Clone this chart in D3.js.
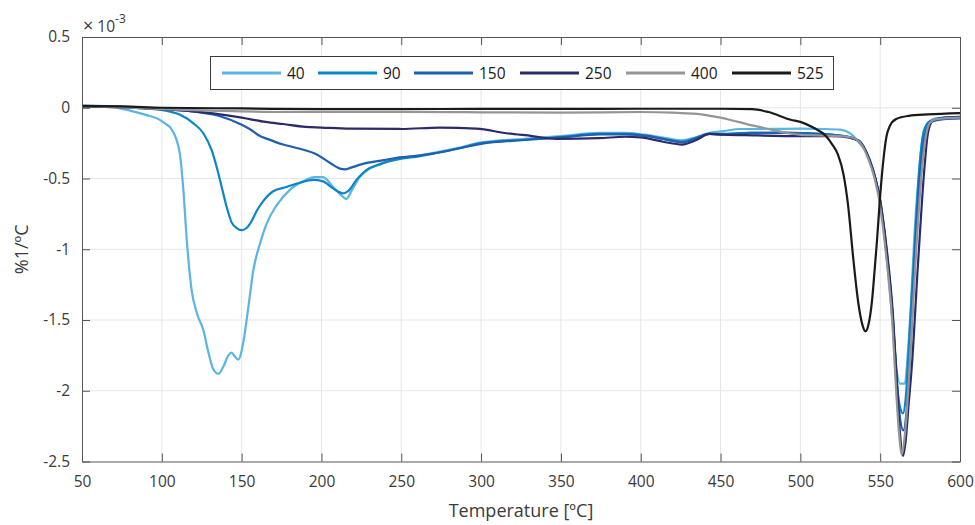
<!DOCTYPE html>
<html>
<head>
<meta charset="utf-8">
<script src="https://cdn.jsdelivr.net/npm/d3@7"></script>
<style>
  html, body { margin: 0; padding: 0; background: #fff; }
  svg { display: block; font-family: "Open Sans", "Noto Sans", sans-serif; }
</style>
</head>
<body>
<svg id="chart" width="975" height="525"></svg>
<script>
// DTG curves (derivative of mass loss, ×10^-3 %1/ºC) versus temperature [ºC]
const seriesNames = ["40", "90", "150", "250", "400", "525"];
const seriesColors = ["#5ab4e6", "#0a86c8", "#1f5fae", "#2b2b6c", "#949598", "#1a1a1a"];

const s40 = [[50,0.015],[60,0.012],[70,0.005],[80,-0.02],[90,-0.05],[97,-0.075],[102,-0.11],[106,-0.15],[109,-0.22],[111.5,-0.34],[113.5,-0.58],[115.6,-0.93],[118.7,-1.29],[121.9,-1.45],[126,-1.57],[129.2,-1.73],[132.3,-1.85],[135.4,-1.88],[138.5,-1.83],[141.7,-1.75],[143.7,-1.73],[145.8,-1.76],[147.9,-1.78],[151,-1.66],[154.2,-1.41],[157.3,-1.15],[161.5,-0.96],[165.6,-0.82],[171.9,-0.69],[180.2,-0.58],[188.5,-0.52],[195.8,-0.49],[201,-0.49],[207.3,-0.56],[213.5,-0.63],[215.6,-0.645],[218.7,-0.59],[223.9,-0.49],[230.2,-0.43],[236.4,-0.40],[250,-0.355],[260,-0.34],[272,-0.315],[285,-0.285],[300,-0.245],[327,-0.22],[350,-0.2],[374,-0.178],[390,-0.178],[402,-0.19],[414,-0.21],[425,-0.23],[434,-0.21],[442,-0.18],[452,-0.165],[462,-0.15],[480,-0.15],[500,-0.148],[515,-0.15],[525,-0.155],[531,-0.18],[537,-0.25],[543.7,-0.37],[548,-0.55],[551,-0.75],[553.6,-1.0],[556,-1.3],[558,-1.55],[560,-1.82],[562.5,-1.95],[565.5,-1.95],[567,-1.78],[568.8,-1.48],[571.5,-0.89],[574.6,-0.42],[576.7,-0.2],[579.9,-0.11],[585,-0.075],[600,-0.065]];

const s90 = [[50,0.015],[70,0.01],[90,-0.005],[100,-0.015],[111.5,-0.05],[119.8,-0.11],[126,-0.18],[131.2,-0.30],[134.4,-0.42],[137.5,-0.56],[140.6,-0.70],[143.7,-0.81],[146.9,-0.85],[150,-0.865],[153.1,-0.85],[156.3,-0.80],[159.4,-0.73],[163.5,-0.66],[169.8,-0.59],[178.1,-0.56],[186.5,-0.53],[194.8,-0.51],[201,-0.52],[207.3,-0.57],[213.5,-0.605],[216.7,-0.59],[221.9,-0.51],[228.1,-0.44],[236.4,-0.40],[250,-0.36],[260,-0.345],[272,-0.32],[285,-0.29],[300,-0.25],[327,-0.226],[350,-0.207],[374,-0.185],[390,-0.185],[402,-0.195],[414,-0.22],[426,-0.24],[435,-0.21],[443,-0.185],[452,-0.185],[470,-0.175],[490,-0.175],[505,-0.18],[520,-0.19],[530,-0.205],[537,-0.24],[543.3,-0.37],[547,-0.5],[550,-0.66],[553.6,-0.98],[558,-1.5],[560.5,-1.95],[562.5,-2.12],[564.3,-2.16],[566,-2.05],[568.4,-1.6],[571.5,-1.0],[574.6,-0.42],[577.5,-0.16],[581,-0.095],[590,-0.075],[600,-0.07]];

const s150 = [[50,0.01],[75,0.005],[100,-0.01],[121.9,-0.03],[136.5,-0.06],[150,-0.12],[155,-0.15],[161.5,-0.20],[166,-0.22],[176,-0.26],[186.6,-0.29],[197,-0.33],[205.4,-0.39],[211.6,-0.43],[215,-0.435],[218,-0.425],[228.4,-0.39],[239,-0.37],[249,-0.35],[259.6,-0.34],[272,-0.32],[285,-0.29],[300,-0.255],[327,-0.228],[350,-0.21],[374,-0.188],[390,-0.188],[405,-0.2],[416,-0.225],[426,-0.245],[435,-0.215],[443,-0.185],[452,-0.19],[470,-0.18],[490,-0.178],[505,-0.183],[520,-0.192],[530,-0.205],[537,-0.24],[543.3,-0.37],[547,-0.5],[550,-0.65],[553.6,-0.97],[558,-1.5],[560.5,-1.95],[562.5,-2.2],[564.5,-2.28],[566.5,-2.15],[569,-1.7],[572,-1.0],[575.3,-0.42],[578.5,-0.17],[582,-0.1],[590,-0.08],[600,-0.075]];

const s250 = [[50,0.01],[80,0.0],[100,-0.01],[115,-0.02],[132,-0.04],[150,-0.07],[155,-0.08],[165,-0.10],[176,-0.115],[190,-0.135],[200,-0.14],[218,-0.148],[250,-0.15],[274,-0.14],[297,-0.148],[316,-0.18],[332,-0.20],[347,-0.22],[374,-0.215],[390,-0.205],[400,-0.21],[414,-0.24],[426,-0.26],[434.5,-0.23],[443,-0.185],[452,-0.19],[470,-0.195],[500,-0.20],[520,-0.20],[530,-0.21],[537,-0.235],[543,-0.36],[547,-0.5],[550,-0.66],[553.8,-0.97],[557.9,-1.45],[560.5,-1.95],[562.4,-2.3],[564.3,-2.46],[566,-2.35],[567.8,-2.1],[569.8,-1.83],[573.6,-1.12],[577.8,-0.415],[579.9,-0.18],[583,-0.09],[590,-0.07],[600,-0.065]];

const s400 = [[50,0.01],[80,0.0],[100,-0.01],[130,-0.02],[175,-0.03],[250,-0.03],[300,-0.032],[350,-0.035],[400,-0.03],[420,-0.035],[440,-0.05],[450,-0.07],[461,-0.10],[472,-0.13],[482,-0.155],[490,-0.175],[499,-0.19],[510,-0.195],[524,-0.20],[532,-0.21],[537,-0.24],[542.5,-0.36],[546.5,-0.5],[549.5,-0.66],[553.3,-1.0],[557.5,-1.5],[560,-2.0],[561.8,-2.3],[563.6,-2.45],[565.3,-2.33],[567,-2.1],[568.4,-1.83],[572.6,-1.0],[576.7,-0.37],[579,-0.18],[580.9,-0.11],[585,-0.08],[600,-0.07]];

const s525 = [[50,0.012],[75,0.01],[100,0.0],[150,-0.005],[200,-0.01],[250,-0.01],[300,-0.008],[350,-0.008],[400,-0.007],[450,-0.007],[470,-0.01],[480,-0.03],[494,-0.085],[500,-0.10],[508,-0.14],[516,-0.2],[520,-0.26],[523.5,-0.33],[527,-0.47],[530,-0.70],[533,-1.05],[536.3,-1.38],[539,-1.54],[540.8,-1.58],[542.5,-1.54],[545,-1.35],[546.5,-1.15],[548,-0.94],[550,-0.62],[552,-0.37],[554,-0.2],[556,-0.13],[560,-0.08],[568,-0.057],[580,-0.047],[600,-0.038]];

const seriesValues = [s40, s90, s150, s250, s400, s525];

const xTicks = [50, 100, 150, 200, 250, 300, 350, 400, 450, 500, 550, 600];
const yTicks = [0.5, 0, -0.5, -1, -1.5, -2, -2.5];
const xTitle = "Temperature [ºC]";
const yTitle = "%1/ºC";

const svg = d3.select("#chart");
const L = 82, R = 960, T = 37, B = 461.5;
const axisColor = "#555555";
const textColor = "#3a3a3a";
const tickLen = 8;

const x = d3.scaleLinear().domain([50, 600]).range([L, R]);
const y = d3.scaleLinear().domain([-2.5, 0.5]).range([B, T]);

// grid
const grid = svg.append("g").attr("stroke", "#e6e6e6").attr("stroke-width", 1);
xTicks.slice(1, -1).forEach(t => grid.append("line")
  .attr("x1", x(t)).attr("x2", x(t)).attr("y1", T).attr("y2", B));
yTicks.slice(1, -1).forEach(t => grid.append("line")
  .attr("x1", L).attr("x2", R).attr("y1", y(t)).attr("y2", y(t)));

// curves
const line = d3.line().x(d => x(d[0])).y(d => y(d[1])).curve(d3.curveMonotoneX);
const plot = svg.append("g");
seriesValues.forEach((s, i) => {
  plot.append("path").datum(s)
    .attr("fill", "none")
    .attr("stroke", seriesColors[i])
    .attr("stroke-width", 2.2)
    .attr("stroke-linejoin", "round")
    .attr("d", line);
});

// axes (boxed, inward ticks on all four sides)
const bottomAxis = d3.axisBottom(x).tickValues(xTicks).tickSizeInner(-tickLen).tickSizeOuter(0).tickPadding(14);
const leftAxis = d3.axisLeft(y).tickValues(yTicks).tickSizeInner(-tickLen).tickSizeOuter(0).tickPadding(14)
  .tickFormat(d => d === 0 ? "0" : String(d));
const topAxis = d3.axisTop(x).tickValues(xTicks).tickSizeInner(-tickLen).tickSizeOuter(0).tickFormat("");
const rightAxis = d3.axisRight(y).tickValues(yTicks).tickSizeInner(-tickLen).tickSizeOuter(0).tickFormat("");

function styleAxis(g) {
  g.selectAll("path.domain").attr("stroke", axisColor).attr("stroke-width", 1);
  g.selectAll(".tick line").attr("stroke", axisColor).attr("stroke-width", 1);
  g.selectAll(".tick text").attr("fill", textColor)
    .style("font-family", '"Open Sans", sans-serif').style("font-size", "15.5px");
}
svg.append("g").attr("transform", `translate(0,${B})`).call(bottomAxis).call(styleAxis);
svg.append("g").attr("transform", `translate(${L},0)`).call(leftAxis).call(styleAxis)
  .selectAll(".tick text").attr("dx", "2px");
svg.append("g").attr("transform", `translate(0,${T})`).call(topAxis).call(styleAxis);
svg.append("g").attr("transform", `translate(${R},0)`).call(rightAxis).call(styleAxis);

// exponent marker
const expo = svg.append("text").attr("x", L + 1).attr("y", 32)
  .attr("fill", textColor).style("font-size", "15.5px");
expo.append("tspan").style("font-size", "18px").text("×");
expo.append("tspan").text(" 10");
expo.append("tspan").attr("dy", -9).style("font-size", "12px").text("-3");

// axis titles
svg.append("text").attr("x", (L + R) / 2).attr("y", 517)
  .attr("text-anchor", "middle").attr("fill", textColor).style("font-size", "18px").text(xTitle);
svg.append("text").attr("transform", `translate(28,${(T + B) / 2}) rotate(-90)`)
  .attr("text-anchor", "middle").attr("fill", textColor).style("font-size", "18px").text(yTitle);

// legend
const legend = svg.append("g");
legend.append("rect").attr("x", 210.5).attr("y", 56.5).attr("width", 623).attr("height", 33)
  .attr("fill", "#fff").attr("stroke", "#3a3a3a").attr("stroke-width", 1);
const legendX = [222, 318, 414, 520, 626, 732];
seriesNames.forEach((n, i) => {
  legend.append("line").attr("x1", legendX[i]).attr("x2", legendX[i] + 59)
    .attr("y1", 73).attr("y2", 73)
    .attr("stroke", seriesColors[i]).attr("stroke-width", 3);
  legend.append("text").attr("x", legendX[i] + 65).attr("y", 79)
    .attr("fill", "#1a1a1a").style("font-size", "15.5px").text(n);
});
</script>
</body>
</html>
